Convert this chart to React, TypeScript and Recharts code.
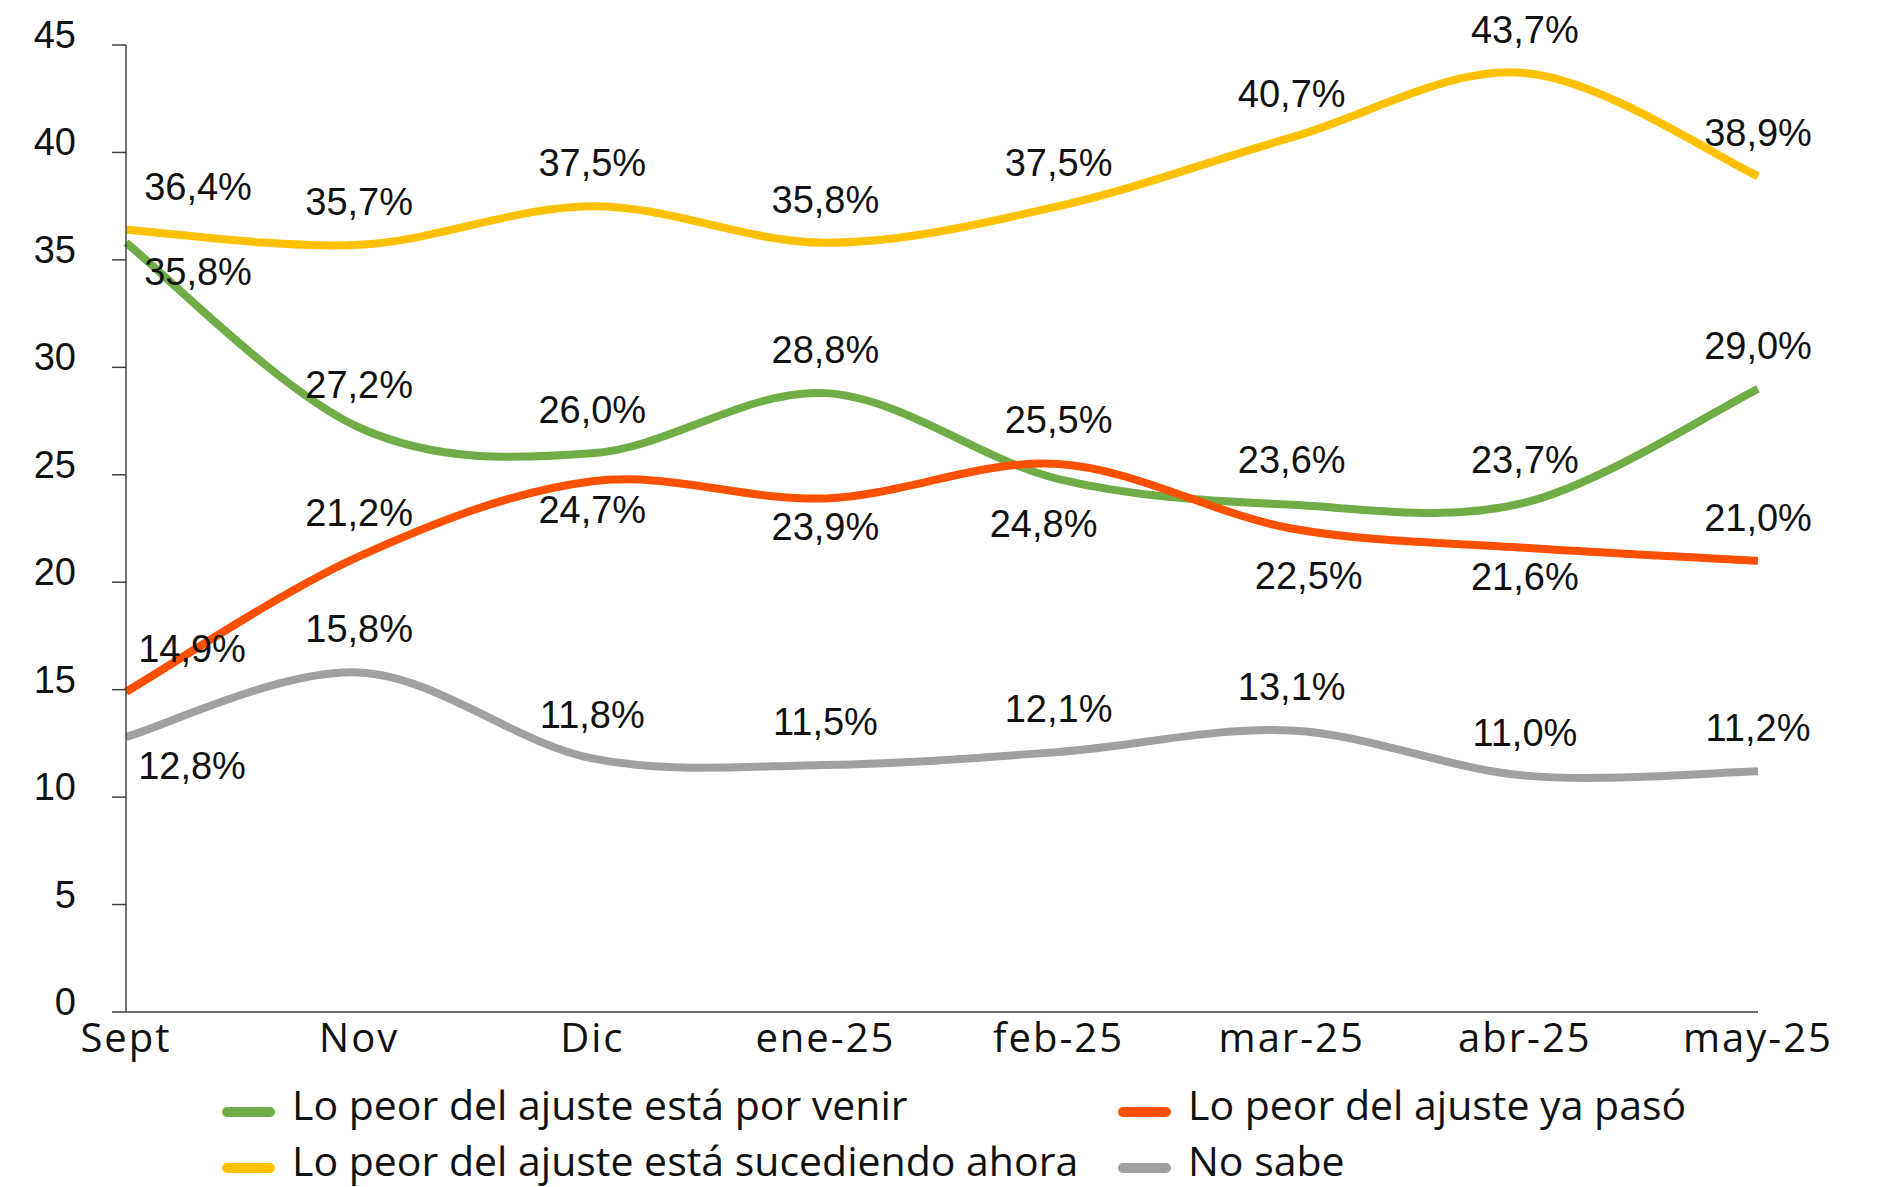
import { LineChart, Line, XAxis, YAxis, LabelList } from "recharts"

const months = ["Sept", "Nov", "Dic", "ene-25", "feb-25", "mar-25", "abr-25", "may-25"]
const porVenir = [35.8, 27.2, 26.0, 28.8, 24.8, 23.6, 23.7, 29.0]
const yaPaso = [14.9, 21.2, 24.7, 23.9, 25.5, 22.5, 21.6, 21.0]
const sucediendo = [36.4, 35.7, 37.5, 35.8, 37.5, 40.7, 43.7, 38.9]
const noSabe = [12.8, 15.8, 11.8, 11.5, 12.1, 13.1, 11.0, 11.2]
const yTicks = [0, 5, 10, 15, 20, 25, 30, 35, 40, 45]

const data = months.map((m, i) => ({
  month: m,
  porVenir: porVenir[i],
  yaPaso: yaPaso[i],
  sucediendo: sucediendo[i],
  noSabe: noSabe[i],
}))

// label offsets [dx, dy-to-baseline] per point
const A = -30
const B = 42
const labelPos: Record<string, number[][]> = {
  porVenir: [[72, B], [0, A], [0, A], [0, A], [-15, 58], [0, -32], [0, A], [0, A]],
  yaPaso: [[66, A], [0, A], [0, B], [0, B], [0, -31], [17, 60], [0, B], [0, A]],
  sucediendo: [[72, A], [0, A], [0, A], [0, A], [0, A], [0, A], [0, A], [0, A]],
  noSabe: [[66, B], [0, A], [0, A], [0, A], [0, A], [0, A], [0, A], [0, A]],
}

const series = [
  { key: "porVenir", name: "Lo peor del ajuste está por venir", color: "#70AD47" },
  { key: "sucediendo", name: "Lo peor del ajuste está sucediendo ahora", color: "#FFC000" },
  { key: "yaPaso", name: "Lo peor del ajuste ya pasó", color: "#FF5000" },
  { key: "noSabe", name: "No sabe", color: "#A0A0A0" },
]

const legendItems = [
  { name: series[0].name, color: series[0].color, left: 222, row: 0 },
  { name: series[2].name, color: series[2].color, left: 1118, row: 0 },
  { name: series[1].name, color: series[1].color, left: 222, row: 1 },
  { name: series[3].name, color: series[3].color, left: 1118, row: 1 },
]

// Excel-like smoothing (uniform Catmull-Rom)
const smoothCurve = (ctx: any) => {
  let pts: number[][] = []
  return {
    areaStart() {},
    areaEnd() {},
    lineStart() {
      pts = []
    },
    point(x: number, y: number) {
      pts.push([+x, +y])
    },
    lineEnd() {
      if (!pts.length) return
      ctx.moveTo(pts[0][0], pts[0][1])
      for (let i = 0; i < pts.length - 1; i++) {
        const p0 = pts[i - 1] || pts[i]
        const p1 = pts[i]
        const p2 = pts[i + 1]
        const p3 = pts[i + 2] || p2
        ctx.bezierCurveTo(
          p1[0] + (p2[0] - p0[0]) / 6,
          p1[1] + (p2[1] - p0[1]) / 6,
          p2[0] - (p3[0] - p1[0]) / 6,
          p2[1] - (p3[1] - p1[1]) / 6,
          p2[0],
          p2[1]
        )
      }
    },
  }
}

const labelFont = "'Liberation Sans', Arial, sans-serif"
const textFont = "'Open Sans', sans-serif"

const makeLabel = (key: string) => (props: any) => {
  const { x, y, value, index } = props
  const [dx, dy] = labelPos[key][index] || [0, A]
  return (
    <text
      x={x + dx}
      y={y + dy}
      textAnchor="middle"
      fontSize={38}
      fontFamily={labelFont}
      fill="#111"
    >
      {Number(value).toFixed(1).replace(".", ",") + "%"}
    </text>
  )
}

const YTick = (props: any) => {
  const { x, y, payload } = props
  return (
    <text x={x} y={y + 3} textAnchor="end" fontSize={38} fontFamily={labelFont} fill="#111">
      {payload.value}
    </text>
  )
}

const XTick = (props: any) => {
  const { x, y, payload } = props
  return (
    <text
      x={x}
      y={y + 26}
      textAnchor="middle"
      fontSize={40}
      fontFamily={textFont}
      letterSpacing={2}
      fill="#111"
    >
      {payload.value}
    </text>
  )
}

export default function App() {
  return (
    <div style={{ position: "absolute", left: 0, top: 0, width: 1880, height: 1187, background: "#fff" }}>
      <LineChart
        width={1880}
        height={1187}
        data={data}
        margin={{ top: 45, right: 122, bottom: 115, left: 0 }}
      >
        <XAxis
          dataKey="month"
          height={60}
          tickSize={0}
          tickMargin={14}
          tickLine={false}
          axisLine={{ stroke: "#404040", strokeWidth: 1.5 }}
          tick={<XTick />}
          interval={0}
        />
        <YAxis
          width={126}
          domain={[0, 45]}
          ticks={yTicks}
          tickSize={14}
          tickMargin={36}
          axisLine={{ stroke: "#404040", strokeWidth: 1.5 }}
          tickLine={{ stroke: "#404040", strokeWidth: 1.5 }}
          tick={<YTick />}
          interval={0}
        />
        {series.map((s) => (
          <Line
            key={s.key}
            dataKey={s.key}
            name={s.name}
            stroke={s.color}
            strokeWidth={8}
            type={smoothCurve as any}
            dot={false}
            activeDot={false}
            isAnimationActive={false}
          >
            <LabelList dataKey={s.key} content={makeLabel(s.key)} />
          </Line>
        ))}
      </LineChart>
      {legendItems.map((item) => {
        const base = 1121 + item.row * 56
        return (
          <div key={item.name}>
            <div
              style={{
                position: "absolute",
                left: item.left,
                top: base - 9 - 5,
                width: 53,
                height: 10,
                borderRadius: 5,
                background: item.color,
              }}
            />
            <div
              style={{
                position: "absolute",
                left: item.left + 70,
                top: base - 37,
                fontFamily: textFont,
                fontSize: 41,
                lineHeight: "41px",
                color: "#111",
                whiteSpace: "nowrap",
              }}
            >
              {item.name}
            </div>
          </div>
        )
      })}
    </div>
  )
}
